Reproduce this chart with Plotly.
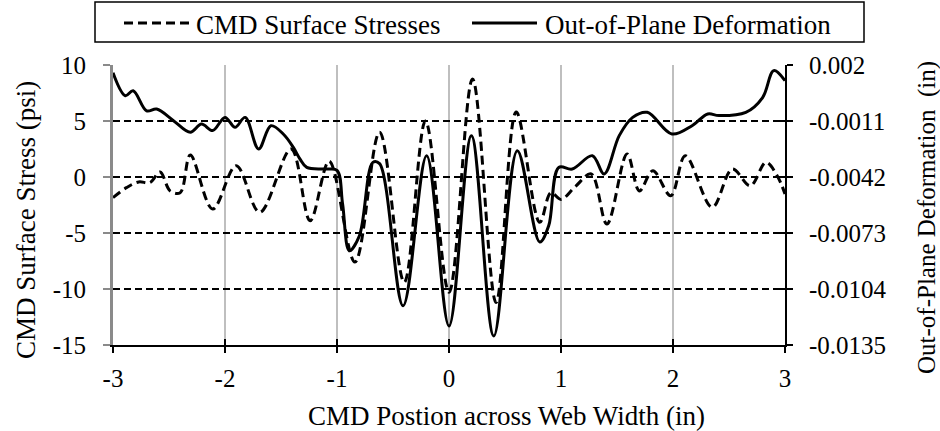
import plotly.graph_objects as go

# CMD surface stress samples (psi) across the web width (in)
stress_x = [-3.0, -2.88, -2.77, -2.67, -2.58, -2.49, -2.40, -2.31, -2.11, -1.90,
            -1.69, -1.41, -1.24, -1.07, -0.84, -0.62, -0.40, -0.21, 0.0, 0.21,
            0.42, 0.60, 0.81, 0.91, 1.0, 1.13, 1.27, 1.41, 1.59, 1.70,
            1.82, 1.98, 2.11, 2.35, 2.53, 2.69, 2.83, 2.93, 3.0]
stress_psi = [-1.84, -0.95, -0.44, -0.5, 0.45, -1.24, -1.4, 1.96, -2.86, 1.01,
              -3.15, 2.5, -3.9, 1.4, -7.6, 4.0, -9.4, 5.0, -10.3, 8.75,
              -11.2, 5.8, -4.05, -1.4, -2.0, -0.83, 0.27, -4.2, 2.05, -1.24,
              0.56, -1.67, 1.9, -2.7, 0.71, -0.78, 1.31, 0.12, -1.52]

# Out-of-plane deformation samples (in) across the web width (in)
deform_x = [-3.0, -2.89, -2.82, -2.70, -2.61, -2.46, -2.31, -2.21, -2.11, -2.0,
            -1.91, -1.82, -1.70, -1.59, -1.48, -1.39, -1.33, -1.27, -1.10, -1.0,
            -0.95, -0.89, -0.80, -0.68, -0.62, -0.41, -0.20, 0.0, 0.20, 0.40,
            0.61, 0.81, 0.89, 0.98, 1.10, 1.28, 1.385, 1.52, 1.64, 1.77,
            1.99, 2.17, 2.31, 2.41, 2.65, 2.80, 2.90, 3.0]
deform_in = [0.00157, 0.00030, 0.00057, -0.00054, -0.00044, -0.00108, -0.00172, -0.00127, -0.00163, -0.00090,
             -0.00145, -0.00090, -0.00265, -0.00136, -0.00182, -0.00256, -0.00321, -0.00367, -0.00376, -0.00383,
             -0.00570, -0.00828, -0.00745, -0.00339, -0.00346, -0.01133, -0.00302, -0.01245, -0.00191, -0.01300,
             -0.00274, -0.00780, -0.00690, -0.00367, -0.00376, -0.00302, -0.00403, -0.00191, -0.00090, -0.00062,
             -0.00182, -0.00136, -0.00071, -0.00080, -0.00062, 0.00020, 0.00169, 0.00113]

# Axis ticks
x_ticks = [-3, -2, -1, 0, 1, 2, 3]
x_labels = ["-3", "-2", "-1", "0", "1", "2", "3"]
stress_ticks = [10, 5, 0, -5, -10, -15]
stress_labels = ["10", "5", "0", "-5", "-10", "-15"]
deform_ticks = [0.002, -0.0011, -0.0042, -0.0073, -0.0104, -0.0135]
deform_labels = ["0.002", "-0.0011", "-0.0042", "-0.0073", "-0.0104", "-0.0135"]

series_names = ["CMD Surface Stresses", "Out-of-Plane Deformation"]
x_title = "CMD Postion across Web Width (in)"
y_title = "CMD Surface Stress (psi)"
y2_title = "Out-of-Plane Deformation  (in)"

FONT = "Liberation Serif"
DASH = "9px,5px"

# plot area in pixels
W, H = 940, 431
L, R, T, B = 113, 155, 65, 86
PW, PH = W - L - R, H - T - B


def px(xp):
    return (xp - L) / PW


def py(yp):
    return (H - B - yp) / PH


fig = go.Figure()
fig.add_trace(go.Scatter(
    x=stress_x, y=stress_psi, name=series_names[0], mode="lines",
    line=dict(color="black", width=3, dash=DASH, shape="spline", smoothing=1.0),
    yaxis="y", hoverinfo="x+y"))
fig.add_trace(go.Scatter(
    x=deform_x, y=deform_in, name=series_names[1], mode="lines",
    line=dict(color="black", width=3, shape="spline", smoothing=1.0),
    yaxis="y2", hoverinfo="x+y"))
# carries the inner halves of the crossing tick marks
fig.add_trace(go.Scatter(x=[None], y=[None], xaxis="x2", yaxis="y3",
                         showlegend=False, hoverinfo="skip"))

fig.update_layout(
    width=W, height=H,
    margin=dict(l=L, r=R, t=T, b=B),
    paper_bgcolor="white", plot_bgcolor="white",
    font=dict(family=FONT, size=25, color="black"),
    showlegend=False,
    xaxis=dict(range=[-3, 3], tickvals=x_ticks, ticktext=x_labels,
               showgrid=True, gridcolor="#bfbfbf", gridwidth=2,
               showline=True, linecolor="black", linewidth=2,
               ticks="outside", ticklen=6, tickwidth=1.5, tickcolor="black",
               zeroline=False, tickfont=dict(size=25), ticklabelstandoff=4),
    xaxis2=dict(range=[-3, 3], tickvals=x_ticks, overlaying="x", anchor="y",
                showticklabels=False, showgrid=False, ticks="inside", ticklen=6,
                tickwidth=1.5, tickcolor="black", zeroline=False),
    yaxis=dict(range=[-15, 10], tickvals=stress_ticks, ticktext=stress_labels,
               showgrid=True, gridcolor="black", gridwidth=1.5, griddash="7px,4px",
               showline=True, linecolor="#8a8a8a", linewidth=3,
               ticks="outside", ticklen=7, tickwidth=1.5, tickcolor="#8a8a8a",
               zeroline=False, tickfont=dict(size=25), ticklabelstandoff=12),
    yaxis2=dict(range=[-0.0135, 0.002], tickvals=deform_ticks, ticktext=deform_labels,
                overlaying="y", side="right", anchor="x",
                showgrid=False, showline=True, linecolor="black", linewidth=2,
                ticks="outside", ticklen=6, tickwidth=1.5, tickcolor="black",
                zeroline=False, tickfont=dict(size=25), ticklabelstandoff=11),
    yaxis3=dict(range=[-0.0135, 0.002], tickvals=deform_ticks, overlaying="y",
                side="right", anchor="x", showticklabels=False, showgrid=False,
                ticks="inside", ticklen=6, tickwidth=1.5, tickcolor="black",
                zeroline=False),
)

# axis titles
fig.add_annotation(text=x_title, xref="paper", yref="paper", x=px(506), y=py(416),
                   xanchor="center", yanchor="middle", showarrow=False,
                   font=dict(size=27))
fig.add_annotation(text=y_title, xref="paper", yref="paper", x=px(26), y=py(220),
                   xanchor="center", yanchor="middle", textangle=-90, showarrow=False,
                   font=dict(size=27))
fig.add_annotation(text=y2_title, xref="paper", yref="paper", x=px(927), y=py(218),
                   xanchor="center", yanchor="middle", textangle=-90, showarrow=False,
                   font=dict(size=25))

# legend box with its two samples
fig.add_shape(type="rect", xref="paper", yref="paper", x0=px(95), x1=px(864),
              y0=py(42), y1=py(2), line=dict(color="black", width=1.5),
              fillcolor="white", layer="above")
fig.add_shape(type="line", xref="paper", yref="paper", x0=px(124), x1=px(192),
              y0=py(23), y1=py(23), line=dict(color="black", width=3, dash=DASH))
fig.add_shape(type="line", xref="paper", yref="paper", x0=px(472), x1=px(537),
              y0=py(23), y1=py(23), line=dict(color="black", width=3))
fig.add_annotation(text=series_names[0], xref="paper", yref="paper", x=px(194), y=py(25),
                   xanchor="left", yanchor="middle", showarrow=False, font=dict(size=27))
fig.add_annotation(text=series_names[1], xref="paper", yref="paper", x=px(543), y=py(25),
                   xanchor="left", yanchor="middle", showarrow=False, font=dict(size=27))

fig.write_html("out.html")
